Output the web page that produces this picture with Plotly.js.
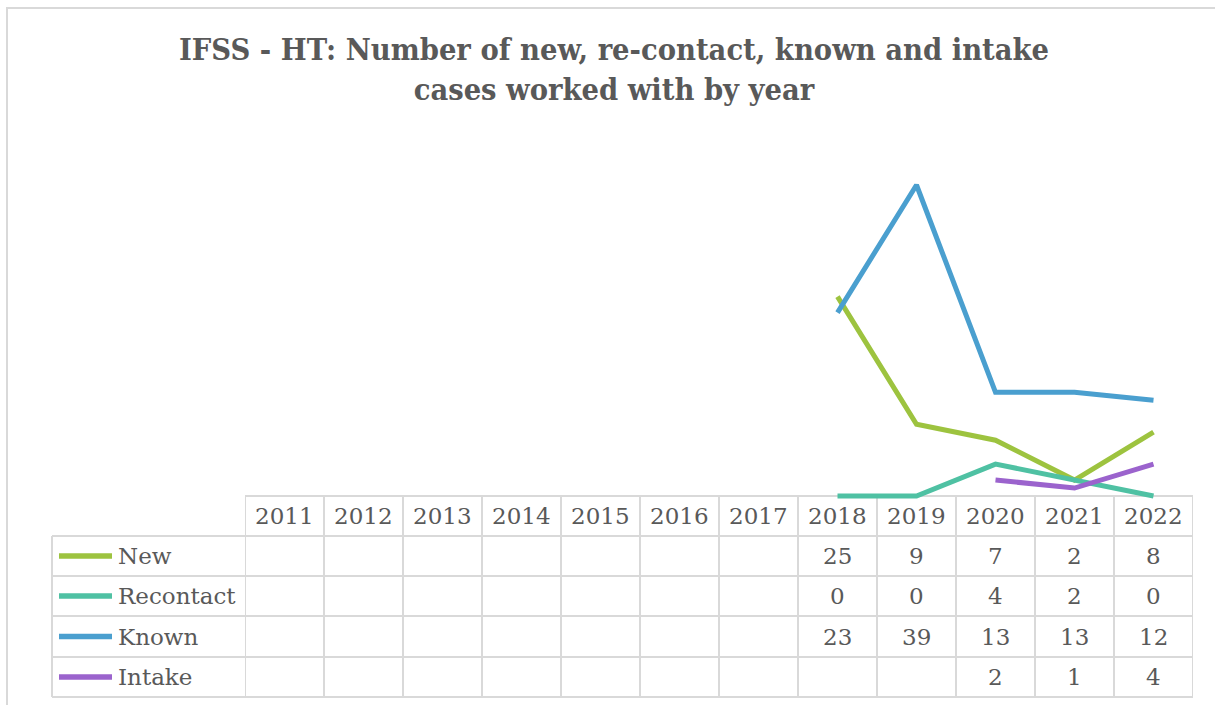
<!DOCTYPE html>
<html>
<head>
<meta charset="utf-8">
<script src="https://cdn.plot.ly/plotly-3.0.1.min.js"></script>
<style>html,body{margin:0;padding:0;background:#fff;}#chart{width:1215px;height:705px;}</style>
</head>
<body>
<div id="chart"></div>
<script>
// ---- data ----
const years = ['2011','2012','2013','2014','2015','2016','2017','2018','2019','2020','2021','2022'];
const seriesNames = ['New', 'Recontact', 'Known', 'Intake'];
const newCases       = [null,null,null,null,null,null,null,25,9,7,2,8];
const recontactCases = [null,null,null,null,null,null,null,0,0,4,2,0];
const knownCases     = [null,null,null,null,null,null,null,23,39,13,13,12];
const intakeCases    = [null,null,null,null,null,null,null,null,null,2,1,4];
const seriesColors = ['#9dc33f', '#4fc1a3', '#4a9fcf', '#9b63cd'];
const titleText = 'IFSS - HT: Number of new, re-contact, known and intake<br>cases worked with by year';

const seriesValues = [newCases, recontactCases, knownCases, intakeCases];

// ---- layout geometry (pixels) ----
const W = 1215, H = 705;
const L = 245, R = 1193;           // plot left/right
const T = 137, B = 500;            // plot top/bottom
const zeroPx = 496;                // pixel of value 0
const ppu = 7.974;                 // pixels per unit
const plotH = B - T, plotW = R - L;
const py = p => (B - p) / plotH;   // pixel y -> paper
const px = p => (p - L) / plotW;   // pixel x -> paper

const rowEdges = [496, 536, 576, 616, 657, 697];
const tableLeft = 52;
const gridColor = '#d9d9d9';
const textColor = '#595959';
const tableFont = {family: 'DejaVu Serif', size: 23, color: textColor};

const traces = seriesValues.map((vals, i) => ({
  type: 'scatter', mode: 'lines', name: seriesNames[i],
  x: years, y: vals, connectgaps: false,
  line: {color: seriesColors[i], width: 5},
  hoverinfo: 'skip'
}));

const shapes = [];
const annotations = [];

// outer chart border
shapes.push({type: 'rect', xref: 'paper', yref: 'paper', layer: 'below',
  x0: px(7), x1: px(1222), y0: py(8), y1: py(712),
  line: {color: gridColor, width: 2}, fillcolor: 'rgba(0,0,0,0)'});

// table horizontal lines
shapes.push({type: 'line', xref: 'x', yref: 'paper', layer: 'below',
  x0: -0.5, x1: years.length - 0.5, y0: py(rowEdges[0]), y1: py(rowEdges[0]),
  line: {color: gridColor, width: 2}});
for (let r = 1; r < rowEdges.length; r++) {
  shapes.push({type: 'line', xref: 'paper', yref: 'paper', layer: 'below',
    x0: px(tableLeft), x1: 1, y0: py(rowEdges[r]), y1: py(rowEdges[r]),
    line: {color: gridColor, width: 2}});
}
// table vertical lines
for (let k = 0; k <= years.length; k++) {
  shapes.push({type: 'line', xref: 'x', yref: 'paper', layer: 'below',
    x0: k - 0.5, x1: k - 0.5, y0: py(rowEdges[0]), y1: py(rowEdges[rowEdges.length - 1]),
    line: {color: gridColor, width: 2}});
}
shapes.push({type: 'line', xref: 'paper', yref: 'paper', layer: 'below',
  x0: px(tableLeft), x1: px(tableLeft), y0: py(rowEdges[1]), y1: py(rowEdges[rowEdges.length - 1]),
  line: {color: gridColor, width: 2}});

// header: years (category index positions)
years.forEach((yr, j) => {
  annotations.push({xref: 'x', yref: 'paper', x: j, y: py((rowEdges[0] + rowEdges[1]) / 2),
    text: yr, showarrow: false, font: tableFont, xanchor: 'center', yanchor: 'middle'});
});

// rows
seriesNames.forEach((name, i) => {
  const yc = py((rowEdges[i + 1] + rowEdges[i + 2]) / 2);
  // legend key
  shapes.push({type: 'line', xref: 'paper', yref: 'paper',
    x0: px(59), x1: px(112), y0: yc, y1: yc,
    line: {color: seriesColors[i], width: 5.5}});
  annotations.push({xref: 'paper', yref: 'paper', x: px(116), y: yc, text: name,
    showarrow: false, font: tableFont, xanchor: 'left', yanchor: 'middle'});
  seriesValues[i].forEach((v, j) => {
    if (v === null) return;
    annotations.push({xref: 'x', yref: 'paper', x: j, y: yc, text: String(v),
      showarrow: false, font: tableFont, xanchor: 'center', yanchor: 'middle'});
  });
});

const layout = {
  width: W, height: H,
  margin: {l: L, r: W - R, t: T, b: H - B, pad: 0},
  paper_bgcolor: '#ffffff', plot_bgcolor: '#ffffff',
  showlegend: false,
  title: {text: titleText, x: 614 / W, xref: 'container', xanchor: 'center',
    y: 1 - 60 / H, yref: 'container', yanchor: 'top',
    font: {family: 'DejaVu Serif Condensed', size: 30.5, color: textColor, weight: 'bold'}},
  xaxis: {type: 'category', range: [-0.5, years.length - 0.5], showgrid: false,
    zeroline: false, showline: false, showticklabels: false, ticks: ''},
  yaxis: {range: [-(B - zeroPx) / ppu, (zeroPx - T) / ppu], showgrid: false,
    zeroline: false, showline: false, showticklabels: false, ticks: ''},
  shapes: shapes,
  annotations: annotations
};

Plotly.newPlot('chart', traces, layout, {displayModeBar: false, staticPlot: true});
</script>
</body>
</html>
